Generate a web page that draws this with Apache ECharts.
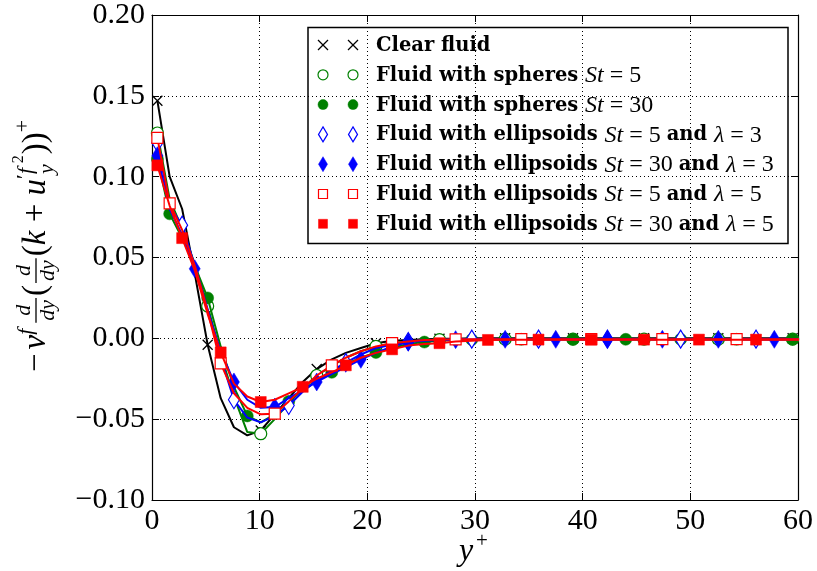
<!DOCTYPE html>
<html><head><meta charset="utf-8">
<script src="https://cdn.jsdelivr.net/npm/echarts@6/dist/echarts.min.js"></script>
<style>html,body{margin:0;padding:0;background:#fff}#c{width:817px;height:571px}</style>
</head><body><div id="c"></div>
<script>
// ---------------- data ----------------
const yPlus = [0.5, 1.64, 2.8, 3.97, 5.17, 6.38, 7.61, 8.85, 10.1, 11.4, 12.7, 14.0, 15.3, 16.7, 18.0, 19.4, 20.8, 22.3, 23.8, 25.3, 26.7, 28.2, 29.7, 31.2, 32.8, 34.3, 35.9, 37.5, 39.1, 40.8, 42.3, 44.0, 45.7, 47.4, 49.1, 50.8, 52.6, 54.3, 56.1, 57.8, 59.5, 61.3];

const clearFluid = [0.147, 0.100, 0.080, 0.040, -0.004, -0.037, -0.055, -0.060, -0.057, -0.047, -0.037, -0.027, -0.019, -0.013, -0.009, -0.006, -0.003, -0.0015, -0.001, -0.0005, -0.0003, -0.0002, 0, 0, 0, 0, 0, 0, 0, 0, 0, 0, 0, 0, 0, 0, 0, 0, 0, 0, 0, 0];
const spheresSt5 = [0.127, 0.086, 0.068, 0.046, 0.020, -0.010, -0.036, -0.058, -0.059, -0.050, -0.040, -0.031, -0.023, -0.017, -0.012, -0.008, -0.005, -0.003, -0.002, -0.001, -0.0008, -0.0006, -0.0005, -0.0005, -0.0005, -0.0005, -0.0005, -0.0005, -0.0005, -0.0005, -0.0005, -0.0005, -0.0005, -0.0005, -0.0005, -0.0005, -0.0005, -0.0005, -0.0005, -0.0005, -0.0005, -0.0005];
const spheresSt30 = [0.111, 0.077, 0.062, 0.045, 0.025, -0.005, -0.030, -0.048, -0.052, -0.047, -0.039, -0.032, -0.026, -0.021, -0.016, -0.012, -0.0087, -0.006, -0.0035, -0.0023, -0.0015, -0.001, -0.0008, -0.0007, -0.0006, -0.0006, -0.0006, -0.0006, -0.0006, -0.0006, -0.0006, -0.0006, -0.0006, -0.0006, -0.0006, -0.0006, -0.0006, -0.0006, -0.0006, -0.0006, -0.0006, -0.0006];
const ellSt5L3 = [0.121, 0.082, 0.070, 0.045, 0.018, -0.012, -0.038, -0.049, -0.052, -0.048, -0.0415, -0.033, -0.026, -0.020, -0.015, -0.010, -0.006, -0.004, -0.002, -0.001, -0.0008, -0.0006, -0.0005, -0.0005, -0.0005, -0.0005, -0.0005, -0.0005, -0.0005, -0.0005, -0.0005, -0.0005, -0.0005, -0.0005, -0.0005, -0.0005, -0.0005, -0.0005, -0.0005, -0.0005, -0.0005, -0.0005];
const ellSt30L3 = [0.113, 0.080, 0.064, 0.043, 0.017, -0.008, -0.027, -0.038, -0.043, -0.0425, -0.037, -0.032, -0.027, -0.022, -0.018, -0.013, -0.009, -0.005, -0.0023, -0.0015, -0.001, -0.0008, -0.0007, -0.0006, -0.0006, -0.0006, -0.0006, -0.0006, -0.0006, -0.0006, -0.0006, -0.0006, -0.0006, -0.0006, -0.0006, -0.0006, -0.0006, -0.0006, -0.0006, -0.0006, -0.0006, -0.0006];
const ellSt5L5 = [0.124, 0.0835, 0.067, 0.045, 0.017, -0.0155, -0.034, -0.043, -0.047, -0.0466, -0.039, -0.031, -0.023, -0.0167, -0.012, -0.008, -0.005, -0.003, -0.002, -0.001, -0.0008, -0.0006, -0.0005, -0.0005, -0.0005, -0.0005, -0.0005, -0.0005, -0.0005, -0.0005, -0.0005, -0.0005, -0.0005, -0.0005, -0.0005, -0.0005, -0.0005, -0.0005, -0.0005, -0.0005, -0.0005, -0.0005];
const ellSt30L5 = [0.107, 0.082, 0.062, 0.042, 0.015, -0.0087, -0.028, -0.036, -0.0394, -0.038, -0.034, -0.030, -0.025, -0.021, -0.0167, -0.012, -0.009, -0.0068, -0.0045, -0.0035, -0.003, -0.002, -0.0015, -0.001, -0.0008, -0.0008, -0.0008, -0.0008, -0.0008, -0.0008, -0.0008, -0.0008, -0.0008, -0.0008, -0.0008, -0.0008, -0.0008, -0.0008, -0.0008, -0.0008, -0.0008, -0.0008];

const seriesNames = ['Clear fluid', 'Fluid with spheres St = 5', 'Fluid with spheres St = 30',
  'Fluid with ellipsoids St = 5 and λ = 3', 'Fluid with ellipsoids St = 30 and λ = 3',
  'Fluid with ellipsoids St = 5 and λ = 5', 'Fluid with ellipsoids St = 30 and λ = 5'];
const seriesValues = [clearFluid, spheresSt5, spheresSt30, ellSt5L3, ellSt30L3, ellSt5L5, ellSt30L5];

const xTickValues = [0, 10, 20, 30, 40, 50, 60];
const yTickValues = [-0.10, -0.05, 0.00, 0.05, 0.10, 0.15, 0.20];

// legend label segments: b = bold text, m = math italic, r = upright math
const legendLabels = [
  [['b', 'Clear fluid']],
  [['b', 'Fluid with spheres '], ['m', 'St'], ['r', ' = 5']],
  [['b', 'Fluid with spheres '], ['m', 'St'], ['r', ' = 30']],
  [['b', 'Fluid with ellipsoids '], ['m', 'St'], ['r', ' = 5 '], ['b', 'and '], ['m', 'λ'], ['r', ' = 3']],
  [['b', 'Fluid with ellipsoids '], ['m', 'St'], ['r', ' = 30 '], ['b', 'and '], ['m', 'λ'], ['r', ' = 3']],
  [['b', 'Fluid with ellipsoids '], ['m', 'St'], ['r', ' = 5 '], ['b', 'and '], ['m', 'λ'], ['r', ' = 5']],
  [['b', 'Fluid with ellipsoids '], ['m', 'St'], ['r', ' = 30 '], ['b', 'and '], ['m', 'λ'], ['r', ' = 5']]
];

// ---------------- styles ----------------
const GREEN = '#008000', BLUE = '#0000ff', RED = '#ff0000', BLACK = '#000000';
const styles = [
  {color: BLACK, kind: 'cross',   open: false, every: 4, offset: 0, extra: []},
  {color: GREEN, kind: 'circle',  open: true,  every: 4, offset: 0, extra: []},
  {color: GREEN, kind: 'circle',  open: false, every: 3, offset: 1, extra: [0]},
  {color: BLUE,  kind: 'diamond', open: true,  every: 4, offset: 2, extra: [0]},
  {color: BLUE,  kind: 'diamond', open: false, every: 3, offset: 0, extra: []},
  {color: RED,   kind: 'square',  open: true,  every: 4, offset: 1, extra: [0]},
  {color: RED,   kind: 'square',  open: false, every: 3, offset: 2, extra: [0]}
];
const SYM = {
  cross:   {symbol: 'path://M0,0L10,10M10,0L0,10', size: 10},
  circle:  {symbol: 'circle', size: 12},
  diamond: {symbol: 'diamond', size: [11, 18]},
  square:  {symbol: 'rect', size: 11}
};

const FONT = "'Liberation Serif', 'Times New Roman', serif";
const BFONT = "'DejaVu Serif', serif";

const series = seriesValues.map((vals, si) => {
  const st = styles[si];
  const sym = SYM[st.kind];
  const isMarker = i => (i < yPlus.length - 1) && ((i >= st.offset && (i - st.offset) % st.every === 0) || st.extra.includes(i));
  return {
    name: seriesNames[si],
    type: 'line',
    z: 2 + si,
    clip: true,
    symbol: sym.symbol,
    symbolSize: sym.size,
    showAllSymbol: true,
    animation: false,
    lineStyle: {color: st.color, width: 2},
    itemStyle: st.kind === 'cross'
      ? {color: st.color, borderColor: st.color, borderWidth: 1.3}
      : (st.open ? {color: '#ffffff', borderColor: st.color, borderWidth: 1.2}
                 : {color: st.color, borderColor: st.color, borderWidth: 0.5}),
    emphasis: {disabled: true},
    data: yPlus.map((x, i) => isMarker(i) ? {value: [x, vals[i]]} : {value: [x, vals[i]], symbol: 'none'})
  };
});

// ---------------- text measurement helper ----------------
const mctx = document.createElement('canvas').getContext('2d');
function tw(t, size, italic, fam) {
  mctx.font = (italic ? 'italic ' : '') + size + 'px ' + (fam || FONT);
  return mctx.measureText(t).width;
}

// ---------------- y-axis title (rotated math) ----------------
function buildYTitle() {
  const S = 33, s = 22;
  const kids = [];
  let x = 0;
  function put(t, size, italic, raise, advance) {
    kids.push({type: 'text', style: {x: x, y: -raise - 0.30 * size, text: t,
      font: (italic ? 'italic ' : '') + size + 'px ' + FONT, fill: '#000', verticalAlign: 'middle', align: 'left'}});
    const w = tw(t, size, italic);
    if (advance !== false) x += w;
    return w;
  }
  function frac(n, d) {
    const wn = tw(n, s, true), wd = tw(d, s, true);
    const w = Math.max(wn, wd) + 4;
    x += 2;
    kids.push({type: 'text', style: {x: x + (w - wn) / 2, y: -15 - 0.30 * s, text: n, font: 'italic ' + s + 'px ' + FONT, fill: '#000', verticalAlign: 'middle'}});
    kids.push({type: 'text', style: {x: x + (w - wd) / 2, y: 9 - 0.30 * s, text: d, font: 'italic ' + s + 'px ' + FONT, fill: '#000', verticalAlign: 'middle'}});
    kids.push({type: 'line', shape: {x1: x, y1: -10, x2: x + w, y2: -10}, style: {stroke: '#000', lineWidth: 1.3}});
    x += w + 2;
  }
  put('\u2212', S, false, 0); x += 4;
  put('\u03bd', S, true, 0);
  put('f', s, true, 13); x += 4;
  frac('d', 'dy');
  put('(', S, false, 0);
  frac('d', 'dy');
  put('(', S, false, 0);
  put('k', S, true, 0);
  put(' + ', S, false, 0);
  put('u', S, true, 0);
  put('\u2032', s, false, 14);
  const xf = x;
  put('f', s, true, 13);
  const xa = x;
  x = xf; put('y', s, true, -8, false); x = Math.max(xa, xf + tw('y', s, true)) + 1;
  put('2', 16, false, 22);
  x += 1;
  put('))', S, false, 0);
  put('+', s, false, 16);
  const total = x;
  return {type: 'group', x: 46, y: 246 + total / 2, rotation: Math.PI / 2, children: kids, silent: true};
}

// ---------------- legend (graphic) ----------------
function markerShape(kind, open, color, cx, cy) {
  const fill = open ? '#ffffff' : color;
  const st = {fill: fill, stroke: color, lineWidth: open ? 1.2 : 0.5};
  if (kind === 'cross') {
    return [{type: 'line', shape: {x1: cx - 5, y1: cy - 5, x2: cx + 5, y2: cy + 5}, style: {stroke: color, lineWidth: 1.2}},
            {type: 'line', shape: {x1: cx - 5, y1: cy + 5, x2: cx + 5, y2: cy - 5}, style: {stroke: color, lineWidth: 1.2}}];
  }
  if (kind === 'circle') return [{type: 'circle', shape: {cx: cx, cy: cy, r: 5}, style: st}];
  if (kind === 'diamond') return [{type: 'polygon', shape: {points: [[cx, cy - 7.5], [cx + 4.5, cy], [cx, cy + 7.5], [cx - 4.5, cy]]}, style: st}];
  return [{type: 'rect', shape: {x: cx - 4.5, y: cy - 4.5, width: 9, height: 9}, style: st}];
}
function buildLegend() {
  const kids = [];
  kids.push({type: 'rect', shape: {x: 308, y: 27.5, width: 480, height: 216}, style: {fill: '#fff', stroke: '#000', lineWidth: 1.5}});
  legendLabels.forEach((segs, i) => {
    const cy = 45 + i * 29.8;
    const st = styles[i];
    kids.push(...markerShape(st.kind, st.open, st.color, 323, cy));
    kids.push(...markerShape(st.kind, st.open, st.color, 353, cy));
    kids.push({type: 'text', style: {
      x: 376, y: cy + 1, verticalAlign: 'middle', align: 'left',
      text: segs.map(([k, t]) => '{' + k + '|' + t + '}').join(''),
      rich: {
        b: {fontFamily: BFONT, fontWeight: 'bold', fontSize: 19.5, fill: '#000'},
        m: {fontFamily: FONT, fontStyle: 'italic', fontSize: 24, fill: '#000'},
        r: {fontFamily: FONT, fontSize: 24, fill: '#000'}
      }
    }});
  });
  return {type: 'group', children: kids, silent: true, z: 100};
}

const axisCommon = {
  axisLine: {show: true, onZero: false, lineStyle: {color: '#000', width: 1.2}},
  axisTick: {show: true, inside: true, length: 7, lineStyle: {color: '#000', width: 1}}
};

const option = {
  backgroundColor: '#ffffff',
  animation: false,
  grid: {left: 152, right: 19, top: 15, bottom: 71, show: false},
  xAxis: [
    Object.assign({type: 'value', min: 0, max: 60, interval: 10, position: 'bottom',
      axisLabel: {color: '#000', fontFamily: FONT, fontSize: 30, margin: 6,
        formatter: v => xTickValues.includes(v) ? String(v) : ''},
      splitLine: {show: true, lineStyle: {color: '#000', width: 1, type: [1, 3]}}}, axisCommon),
    Object.assign({type: 'value', min: 0, max: 60, interval: 10, position: 'top',
      axisLabel: {show: false}, splitLine: {show: false}}, axisCommon)
  ],
  yAxis: [
    Object.assign({type: 'value', min: -0.10, max: 0.20, interval: 0.05, position: 'left',
      axisLabel: {color: '#000', fontFamily: FONT, fontSize: 30, margin: 7,
        formatter: v => {
          const t = yTickValues.find(tv => Math.abs(tv - v) < 1e-9);
          if (t === undefined) return '';
          return (t < -1e-9 ? '\u2212' : '') + Math.abs(t).toFixed(2);
        }},
      splitLine: {show: true, lineStyle: {color: '#000', width: 1, type: [1, 3]}}}, axisCommon),
    Object.assign({type: 'value', min: -0.10, max: 0.20, interval: 0.05, position: 'right',
      axisLabel: {show: false}, splitLine: {show: false}}, axisCommon)
  ],
  series: series,
  graphic: [
    buildYTitle(),
    {type: 'text', silent: true, style: {x: 459, y: 552, text: 'y', font: 'italic 32px ' + FONT, fill: '#000', verticalAlign: 'middle'}},
    {type: 'text', silent: true, style: {x: 476, y: 541, text: '+', font: '21px ' + FONT, fill: '#000', verticalAlign: 'middle'}},
    buildLegend()
  ]
};

const chart = echarts.init(document.getElementById('c'), null, {renderer: 'canvas'});
chart.setOption(option);
</script>
</body></html>
